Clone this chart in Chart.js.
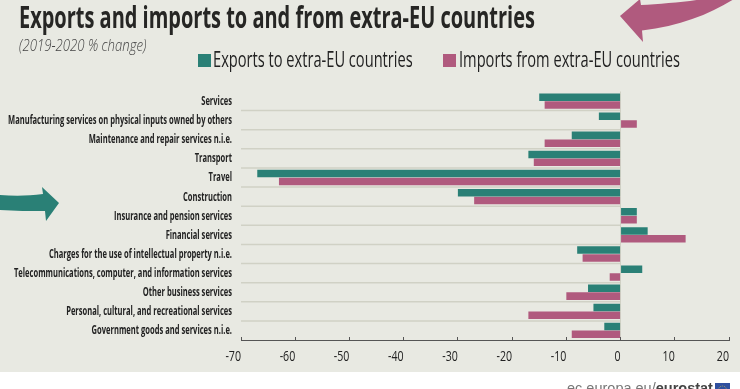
<!DOCTYPE html>
<html>
<head>
<meta charset="utf-8">
<style>
html, body { margin: 0; padding: 0; background: #fff; }
#wrap { position: relative; width: 740px; height: 389px; overflow: hidden; background: #fff; }
#bg { position: absolute; left: 0; top: 0; width: 740px; height: 372px; background: #e8e9e2; }
#box { position: absolute; left: 0; top: 0; width: 740px; height: 389px; }
.t { position: absolute; white-space: nowrap; color: #222; line-height: 1; transform-origin: 0 0; font-family: "Open Sans", sans-serif; }
#title { left: 19px; top: 2px; font-size: 30px; font-weight: bold; color: #262624; }
#sub { left: 19px; top: 36px; font-size: 17px; font-weight: 300; font-style: italic; color: #444; }
.key { position: absolute; top: 54px; width: 13px; height: 13px; }
.leg { top: 49px; font-size: 21px; }
#foot { left: 567px; top: 380px; font-family: "Liberation Sans", sans-serif; font-size: 15px; color: #777; }
#foot b { color: #444; }
svg { position: absolute; left: 0; top: 0; }
</style>
</head>
<body>
<div id="wrap">
  <div id="bg"></div>
  <div id="box"><canvas id="myChart" width="740" height="389"></canvas></div>
  <svg width="740" height="389">
    <path d="M620 16 L640 -1 L641 5 C660 4 685 2 703 -1 L734 -1 C710 14 680 26 642 30.5 L643 42 Z" fill="#b05a7e"/>
    <path d="M59 203 L42 187 L43 194 C28 196 14 196 0 195 L0 210 C15 211 30 211 45 211 L46 221 Z" fill="#2a8076"/>
    <rect x="715" y="383" width="15" height="10" fill="#2f4f9f"/>
    <circle cx="722.5" cy="390" r="4" fill="none" stroke="#c9b84a" stroke-width="0.8" stroke-dasharray="1 1"/>
  </svg>
  <div class="t" id="title" data-w="516">Exports and imports to and from extra-EU countries</div>
  <div class="t" id="sub" data-w="127">(2019-2020 % change)</div>
  <div class="key" id="k0" style="left:198px"></div>
  <div class="t leg" id="l0" data-w="200" style="left:213px"></div>
  <div class="key" id="k1" style="left:443px"></div>
  <div class="t leg" id="l1" data-w="221" style="left:459px"></div>
  <div class="t" id="foot" data-w="146">ec.europa.eu/<b>eurostat</b></div>
</div>
<script src="https://cdn.jsdelivr.net/npm/chart.js@4"></script>
<script>
var categories = ['Services', 'Manufacturing services on physical inputs owned by others', 'Maintenance and repair services n.i.e.', 'Transport', 'Travel', 'Construction', 'Insurance and pension services', 'Financial services', 'Charges for the use of intellectual property n.i.e.', 'Telecommunications, computer, and information services', 'Other business services', 'Personal, cultural, and recreational services', 'Government goods and services n.i.e.'];
var exportsValues = [-15, -4, -9, -17, -67, -30, 3, 5, -8, 4, -6, -5, -3];
var importsValues = [-14, 3, -14, -16, -63, -27, 3, 12, -7, -2, -10, -17, -9];
var seriesNames = ['Exports to extra-EU countries', 'Imports from extra-EU countries'];
var seriesColors = ['#2a8076', '#b05a7e'];

seriesNames.forEach(function(name, i){
    document.getElementById('l' + i).textContent = name;
    document.getElementById('k' + i).style.background = seriesColors[i];
});

// no condensed font installed, so squeeze the text to the reference widths
document.querySelectorAll('[data-w]').forEach(function(el){
    el.style.transform = 'scaleX(' + (el.dataset.w / el.offsetWidth) + ')';
});

var rowLines = {
    id: 'rowLines',
    beforeDatasetsDraw: function(chart){
        var c = chart.ctx;
        var y = chart.scales.y, x = chart.scales.x;
        c.save();
        c.strokeStyle = '#d0d1c5';
        c.lineWidth = 1.5;
        // lines between the rows stop at the zero line
        for (var i = 0; i < y.ticks.length - 1; i++) {
            var py = (y.getPixelForTick(i) + y.getPixelForTick(i + 1)) / 2;
            c.beginPath();
            c.moveTo(x.left, py);
            c.lineTo(x.getPixelForValue(0), py);
            c.stroke();
        }
        c.restore();
    }
};

var narrowTicks = {
    id: 'narrowTicks',
    afterDraw: function(chart){
        var c = chart.ctx;
        var y = chart.scales.y, x = chart.scales.x;
        c.save();
        c.fillStyle = '#222';
        c.textAlign = 'right';
        c.textBaseline = 'middle';
        c.font = 'bold 11.5px "Open Sans"';
        var squeeze = 224 / c.measureText(categories[1]).width;
        y.ticks.forEach(function(t, i){
            c.save();
            c.translate(232, y.getPixelForTick(i) + 0.6);
            c.scale(squeeze, 1);
            c.fillText(t.label, 0, 0);
            c.restore();
        });
        c.font = '14px "Open Sans"';
        x.ticks.forEach(function(t, i){
            c.save();
            c.translate(x.getPixelForTick(i), 357);
            c.scale(0.76, 1);
            c.fillText(t.label, 0, 0);
            c.restore();
        });
        c.restore();
    }
};

var ctx = document.getElementById('myChart').getContext('2d');
var chart = new Chart(ctx, {
    type: 'bar',
    data: {
        labels: categories,
        datasets: [
            { label: seriesNames[0], backgroundColor: seriesColors[0], data: exportsValues },
            { label: seriesNames[1], backgroundColor: seriesColors[1], data: importsValues }
        ]
    },
    plugins: [rowLines, narrowTicks],
    options: {
        indexAxis: 'y',
        responsive: false,
        animation: false,
        categoryPercentage: 0.82,
        barPercentage: 0.96,
        layout: { autoPadding: false, padding: { top: 91.5, right: 11 } },
        plugins: { legend: { display: false }, title: { display: false }, tooltip: { enabled: false } },
        scales: {
            x: {
                min: -70,
                max: 20,
                afterFit: function(s){ s.height = 49; },
                border: { color: '#555', width: 1 },
                grid: {
                    color: function(c){ return c.tick.value === 0 ? '#d0d1c5' : 'transparent'; },
                    tickColor: '#555',
                    tickLength: -3
                },
                ticks: { stepSize: 10, display: false }
            },
            y: {
                afterFit: function(s){ s.width = 241; },
                border: { display: false },
                grid: { display: false },
                ticks: { autoSkip: false, display: false }
            }
        }
    }
});
</script>
</body>
</html>
